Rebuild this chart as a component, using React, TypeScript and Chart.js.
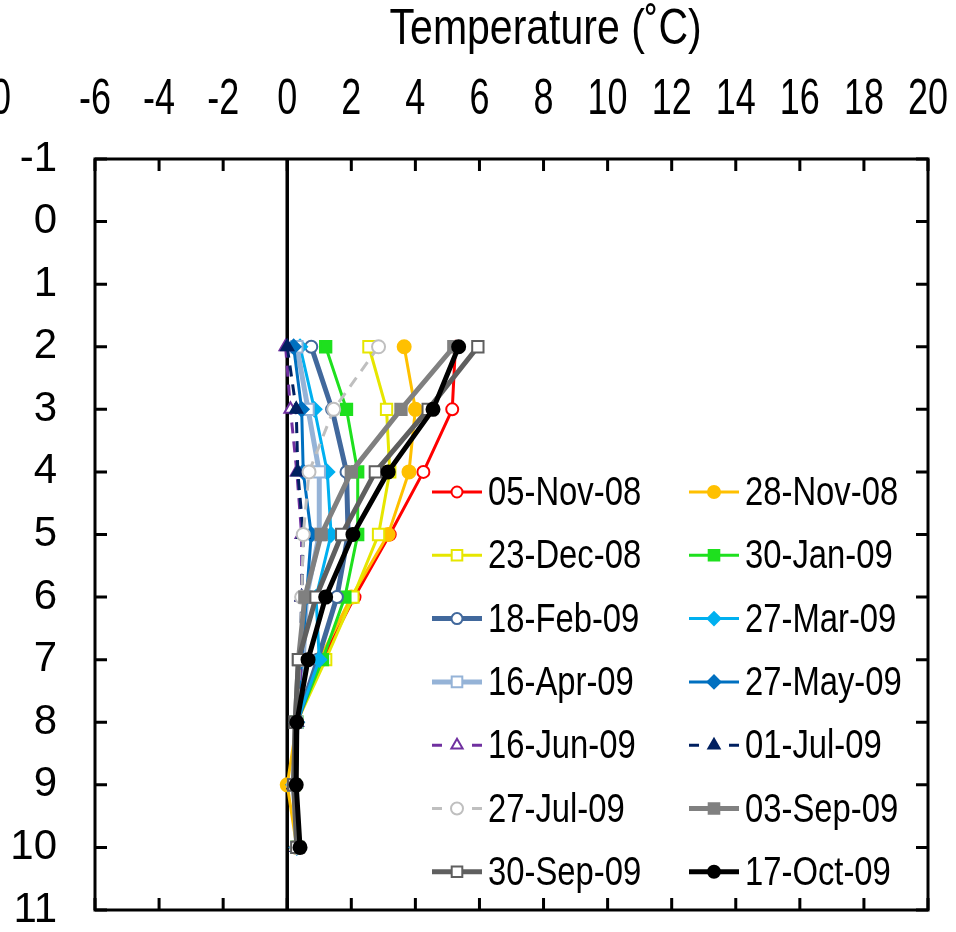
import React, { useEffect, useRef } from 'react';
import { Chart, registerables } from 'chart.js';
import { drawPoint } from 'chart.js/helpers';

Chart.register(...registerables);

// ---- data ----
const depths = [2, 3, 4, 5, 6, 7, 8, 9, 10];
const seriesNames = [
  '05-Nov-08', '28-Nov-08', '23-Dec-08', '30-Jan-09', '18-Feb-09', '27-Mar-09', '16-Apr-09',
  '27-May-09', '16-Jun-09', '01-Jul-09', '27-Jul-09', '03-Sep-09', '30-Sep-09', '17-Oct-09',
];
const nov05 = [5.25, 5.15, 4.25, 3.2, 2.1, 1.1, 0.3, 0.2, 0.3];
const nov28 = [3.65, 4.0, 3.8, 3.15, 2.0, 1.0, 0.3, 0.0, 0.3];
const dec23 = [2.55, 3.1, 3.2, 2.85, 2.05, 1.2, 0.3, 0.2, 0.3];
const jan30 = [1.2, 1.85, 2.2, 2.2, 1.8, 1.1, 0.3, 0.2, 0.3];
const feb18 = [0.75, 1.4, 1.85, 1.9, 1.55, 0.95, 0.3, 0.25, 0.35];
const mar27 = [0.4, 0.85, 1.25, 1.37, 0.9, 1.0, 0.3, 0.2, 0.3];
const apr16 = [0.3, 0.65, 1.0, 1.0, 0.6, 0.5, 0.3, 0.2, 0.3];
const may27 = [0.2, 0.45, 0.5, 0.75, 0.6, 0.45, 0.3, 0.2, 0.3];
const jun16 = [-0.05, 0.1, 0.3, 0.45, 0.45, 0.45, 0.3, 0.2, 0.3];
const jul01 = [0.0, 0.28, 0.33, 0.5, 0.45, 0.4, 0.3, 0.2, 0.3];
const jul27 = [2.85, 1.45, 0.68, 0.5, 0.45, 0.4, 0.3, 0.2, 0.3];
const sep03 = [5.2, 3.55, 2.0, 1.06, 0.55, 0.35, 0.25, 0.2, 0.35];
const sep30 = [5.95, 4.4, 2.75, 1.7, 0.9, 0.35, 0.25, 0.2, 0.3];
const oct17 = [5.35, 4.55, 3.15, 2.05, 1.2, 0.65, 0.3, 0.28, 0.4];
const seriesTemps = [nov05, nov28, dec23, jan30, feb18, mar27, apr16, may27, jun16, jul01, jul27, sep03, sep30, oct17];
const xTickMin = -6;
const xTickMax = 20;
const yTickMin = -1;
const yTickMax = 11;
const axisTitle = 'Temperature (˚C)';
const cutLabel = '-10';

// ---- styles ----
const styles = [
  { color: '#ff0000', point: 'circle', fill: false, width: 3, dash: false, r: 6 },
  { color: '#ffc000', point: 'circle', fill: true, width: 3, dash: false, r: 6.5 },
  { color: '#e6e600', point: 'rect', fill: false, width: 3, dash: false, r: 8 },
  { color: '#1ee01e', point: 'rect', fill: true, width: 3, dash: false, r: 8 },
  { color: '#41689c', point: 'circle', fill: false, width: 5, dash: false, r: 6 },
  { color: '#00b0f0', point: 'rectRot', fill: true, width: 3, dash: false, r: 7 },
  { color: '#95b3d7', point: 'rect', fill: false, width: 5, dash: false, r: 8 },
  { color: '#0070c0', point: 'rectRot', fill: true, width: 3, dash: false, r: 7 },
  { color: '#7030a0', point: 'triangle', fill: false, width: 3, dash: true, r: 7 },
  { color: '#002060', point: 'triangle', fill: true, width: 3, dash: true, r: 7 },
  { color: '#bfbfbf', point: 'circle', fill: false, width: 3, dash: true, r: 6.5 },
  { color: '#808080', point: 'rect', fill: true, width: 5, dash: false, r: 8 },
  { color: '#5f5f5f', point: 'rect', fill: false, width: 5, dash: false, r: 8 },
  { color: '#000000', point: 'circle', fill: true, width: 5, dash: false, r: 6.5 },
];

const SANS = "'Liberation Sans', Arial, sans-serif";

function narrowText(ctx: CanvasRenderingContext2D, text: string, x: number, y: number, size: number, sx: number, align: CanvasTextAlign) {
  ctx.save();
  ctx.font = `${size}px ${SANS}`;
  ctx.textAlign = align;
  ctx.textBaseline = 'middle';
  ctx.fillStyle = '#000';
  ctx.translate(x, y);
  ctx.scale(sx, 1);
  ctx.fillText(text, 0, 0);
  ctx.restore();
}

const framePlugin = {
  id: 'frame',
  beforeDatasetsDraw(chart: any) {
    const { ctx, chartArea } = chart;
    const xs = chart.scales.x;
    const x0 = xs.getPixelForValue(0);
    ctx.save();
    ctx.strokeStyle = '#000';
    ctx.lineWidth = 3.5;
    ctx.beginPath();
    ctx.moveTo(x0, chartArea.top);
    ctx.lineTo(x0, chartArea.bottom);
    ctx.stroke();
    ctx.restore();
  },
  afterDraw(chart: any) {
    const { ctx, chartArea } = chart;
    const xs = chart.scales.x;
    const ys = chart.scales.y;
    const { left, right, top, bottom } = chartArea;
    ctx.save();
    ctx.strokeStyle = '#000';
    ctx.lineWidth = 3;
    ctx.strokeRect(left, top, right - left, bottom - top);
    const tl = 12;
    ctx.beginPath();
    for (let v = yTickMin; v <= yTickMax; v++) {
      const y = ys.getPixelForValue(v);
      ctx.moveTo(left, y); ctx.lineTo(left + tl, y);
      ctx.moveTo(right, y); ctx.lineTo(right - tl, y);
    }
    for (let v = xTickMin; v <= xTickMax; v += 2) {
      const x = xs.getPixelForValue(v);
      ctx.moveTo(x, top); ctx.lineTo(x, top + tl);
      ctx.moveTo(x, bottom); ctx.lineTo(x, bottom - tl);
    }
    ctx.stroke();
    ctx.restore();

    // x tick labels (condensed text)
    for (const t of xs.ticks) {
      narrowText(ctx, String(t.value), xs.getPixelForValue(t.value), 100, 50, 0.72, 'center');
    }
    // clipped tick label at far left
    narrowText(ctx, cutLabel, 11, 100, 50, 0.72, 'right');
    // axis title
    narrowText(ctx, axisTitle, left + (right - left) * 0.541, 30, 50, 0.82, 'center');

    // legend
    const ds = chart.data.datasets;
    ctx.save();
    for (let i = 0; i < ds.length; i++) {
      const st = styles[i];
      const col = i % 2;
      const row = Math.floor(i / 2);
      const lx = col === 0 ? 432 : 689;
      const ly = 492 + row * 63.3;
      const len = 50;
      ctx.strokeStyle = st.color;
      ctx.lineWidth = st.width;
      ctx.setLineDash([]);
      ctx.beginPath();
      if (st.dash) {
        ctx.moveTo(lx, ly); ctx.lineTo(lx + 10, ly);
        ctx.moveTo(lx + len - 10, ly); ctx.lineTo(lx + len, ly);
      } else {
        ctx.moveTo(lx, ly); ctx.lineTo(lx + len, ly);
      }
      ctx.stroke();
      ctx.fillStyle = st.fill ? st.color : '#ffffff';
      ctx.strokeStyle = st.color;
      ctx.lineWidth = 2;
      drawPoint(ctx, { pointStyle: st.point, radius: st.r - 0.5, rotation: 0, borderWidth: 2 } as any, lx + len / 2, ly);
      narrowText(ctx, ds[i].label, lx + len + 6, ly + 2, 40, 0.82, 'left');
    }
    ctx.restore();
  },
};

export default function App() {
  const ref = useRef<HTMLCanvasElement | null>(null);
  useEffect(() => {
    document.body.style.margin = '0';
    const canvas = ref.current;
    if (!canvas) return;
    const n = seriesNames.length;
    const datasets = seriesNames.map((name, i) => {
      const st = styles[i];
      return {
        label: name,
        data: depths.map((d, k) => ({ x: seriesTemps[i][k], y: d })),
        showLine: true,
        borderColor: st.color,
        backgroundColor: st.color,
        borderWidth: st.width,
        borderDash: st.dash ? [11, 8] : [],
        pointStyle: st.point,
        pointRadius: st.r,
        pointBorderWidth: 2,
        pointBorderColor: st.color,
        pointBackgroundColor: st.fill ? st.color : '#ffffff',
        order: n - i,
      };
    });
    const chart = new Chart(canvas, {
      type: 'scatter',
      data: { datasets } as any,
      options: {
        animation: false,
        responsive: false,
        devicePixelRatio: 1,
        layout: { padding: { left: 0, right: 28, top: 0, bottom: 22 } },
        plugins: { legend: { display: false }, tooltip: { enabled: false } },
        scales: {
          x: {
            type: 'linear',
            position: 'top',
            min: xTickMin,
            max: xTickMax,
            grid: { display: false, drawTicks: false },
            border: { display: false },
            ticks: { display: false, stepSize: 2, autoSkip: false },
            afterFit: (s: any) => { s.height = 159; s.paddingLeft = 0; s.paddingRight = 0; },
          },
          y: {
            type: 'linear',
            reverse: true,
            min: yTickMin,
            max: yTickMax,
            grid: { display: false, drawTicks: false },
            border: { display: false },
            ticks: {
              stepSize: 1,
              padding: 38,
              color: '#000',
              font: { family: SANS, size: 42 },
              autoSkip: false,
            },
            afterFit: (s: any) => { s.width = 95; s.paddingTop = 0; s.paddingBottom = 0; },
          },
        },
      } as any,
      plugins: [framePlugin],
    });
    return () => chart.destroy();
  }, []);
  return (
    <div style={{ position: 'absolute', left: 0, top: 0, width: 956, height: 932 }}>
      <canvas ref={ref} width={956} height={932} />
    </div>
  );
}
